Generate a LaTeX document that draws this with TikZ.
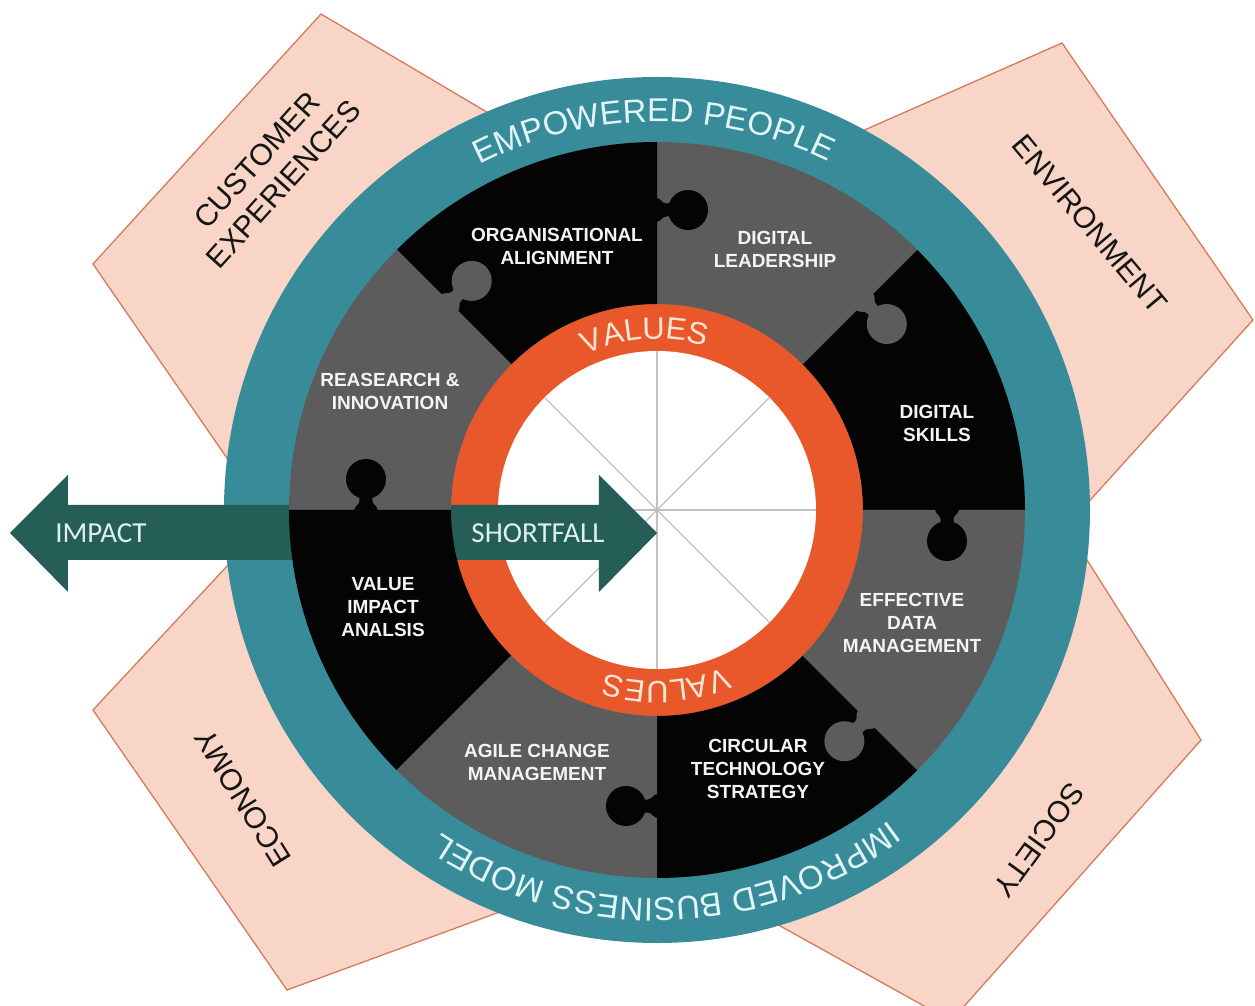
\documentclass[tikz,border=0pt]{standalone}
\usepackage{fontspec}
\setmainfont{Liberation Sans}
\newfontfamily\arrowfont{Carlito}
\usetikzlibrary{decorations.text,calc}

\definecolor{armfill}{RGB}{249,213,199}
\definecolor{armline}{RGB}{214,122,92}
\definecolor{armtext}{RGB}{20,20,20}
\definecolor{tealring}{RGB}{56,140,154}
\definecolor{ringtextcol}{RGB}{226,245,247}
\definecolor{piecedark}{RGB}{4,4,4}
\definecolor{piecegrey}{RGB}{92,92,92}
\definecolor{piecetext}{RGB}{244,244,244}
\definecolor{valring}{RGB}{233,88,42}
\definecolor{valtext}{RGB}{253,230,216}
\definecolor{crossgrey}{RGB}{192,192,192}
\definecolor{arrowfill}{RGB}{37,94,87}
\definecolor{arrowtext}{RGB}{222,240,236}

\newcommand\ringsize{\fontsize{33}{33}\selectfont}
\newcommand\valuesize{\fontsize{31}{31}\selectfont}

\begin{document}
\begin{tikzpicture}[x=1pt,y=1pt,
  arm/.style={fill=armfill,draw=armline,line width=1.3pt,line join=miter},
  armlabel/.style={font=\fontsize{30}{36}\selectfont,text=armtext,align=center,inner sep=0pt},
  piecelabel/.style={font=\bfseries\fontsize{19}{23}\selectfont,text=piecetext,align=center,inner sep=0pt},
  arrowlabel/.style={font=\arrowfont\fontsize{29}{29}\selectfont,text=arrowtext,inner sep=0pt},
  crossline/.style={draw=crossgrey,line width=1.2pt},
  ringlabel/.style={decorate,decoration={text along path,text align=center,
      text color=ringtextcol,text={|\ringsize|#1}}},
  valuelabel/.style={decorate,decoration={text along path,text align=center,
      text color=valtext,text={|\valuesize|#1}}},
]
\useasboundingbox (-657,-496) rectangle (598,510);
\clip (-657,-496) rectangle (598,510);
\fill[white] (-657,-496) rectangle (598,510);

% four outer arms, partly hidden by the wheel
\draw[arm] (-336,496) -- (-564,246) -- (-292,-148) -- (-18,308) -- cycle;
\draw[arm] (405,467) -- (596,190) -- (276,-164) -- (1,289) -- cycle;
\draw[arm] (544,-230) -- (294,-511) -- (10,-353) -- (316,130) -- cycle;
\draw[arm] (-564,-200) -- (-370,-480) -- (66,-320) -- (-292,92) -- cycle;

\node[armlabel,rotate=48]  (cust) at (-387,338) {CUSTOMER\\EXPERIENCES};
\node[armlabel,rotate=-50] (env)  at (433,286)  {ENVIRONMENT};
\node[armlabel,rotate=122] (eco)  at (-414,-288) {ECONOMY};
\node[armlabel,rotate=234] (soc)  at (382,-330) {SOCIETY};

% wheel: teal ring, values ring, white hub
\fill[tealring] (0,0) circle[radius=433pt];
\fill[valring] (0,0) circle[radius=206pt];
\fill[white] (0,0) circle[radius=159pt];
\foreach \ang in {0,45,90,135}
  \draw[crossline] (\ang:159) -- (\ang+180:159);

% double arrow impact / shortfall
\fill[arrowfill] (-647,-23) -- (-589,35) -- (-589,5) -- (-58,5) -- (-58,35)
  -- (0,-23) -- (-58,-82) -- (-58,-50) -- (-589,-50) -- (-589,-82) -- cycle;
\node[arrowlabel] (impact) at (-556,-23) {IMPACT};
\node[arrowlabel] (short) at (-119,-23) {SHORTFALL};

% puzzle pieces
\foreach \ang/\col in {0/piecedark,45/piecegrey,90/piecedark,135/piecegrey,
                       180/piecedark,225/piecegrey,270/piecedark,315/piecegrey}
  \fill[\col] (\ang:206) arc[start angle=\ang, end angle=\ang+45, radius=206pt]
    -- (\ang+45:368) arc[start angle=\ang+45, end angle=\ang, radius=368pt] -- cycle;

% puzzle tabs: a round head on a short filleted neck, pushed clockwise
\foreach \ang/\rk/\col in {0/290/piecedark,45/294/piecegrey,90/300/piecedark,
                           135/293/piecegrey,180/291/piecedark,270/296/piecedark,
                           315/296/piecegrey}{
  \begin{scope}[shift={(\ang:\rk)},rotate=\ang-90]
    \fill[\col] (31,0) circle[radius=20pt];
    \fill[\col] (-1,-12) .. controls (4,-12) and (5,-6.5) .. (9,-6.5) -- (16,-6.5)
      -- (16,6.5) -- (9,6.5) .. controls (5,6.5) and (4,12) .. (-1,12) -- cycle;
  \end{scope}
}

\node[piecelabel] (org)  at (-100,264) {ORGANISATIONAL\\ALIGNMENT};
\node[piecelabel] (lead) at (118,261)  {DIGITAL\\LEADERSHIP};
\node[piecelabel] (res)  at (-267,119) {REASEARCH \&\\INNOVATION};
\node[piecelabel] (skil) at (280,87)   {DIGITAL\\SKILLS};
\node[piecelabel] (via)  at (-274,-97) {VALUE\\IMPACT\\ANALSIS};
\node[piecelabel] (data) at (255,-113) {EFFECTIVE\\DATA\\MANAGEMENT};
\node[piecelabel] (agil) at (-120,-252) {AGILE CHANGE\\MANAGEMENT};
\node[piecelabel] (circ) at (101,-259) {CIRCULAR\\TECHNOLOGY\\STRATEGY};

% curved ring captions
\path[ringlabel={EMPOWERED PEOPLE}]
  (160.5:388) arc[start angle=160.5, end angle=20.5, radius=388pt];
\path[ringlabel={IMPROVED BUSINESS MODEL}]
  (-18.5:388) arc[start angle=-18.5, end angle=-158.5, radius=388pt];
\path[valuelabel={VALUES}]
  (154:171) arc[start angle=154, end angle=34, radius=171pt];
\path[valuelabel={VALUES}]
  (-27:171) arc[start angle=-27, end angle=-147, radius=171pt];
\end{tikzpicture}
\end{document}
